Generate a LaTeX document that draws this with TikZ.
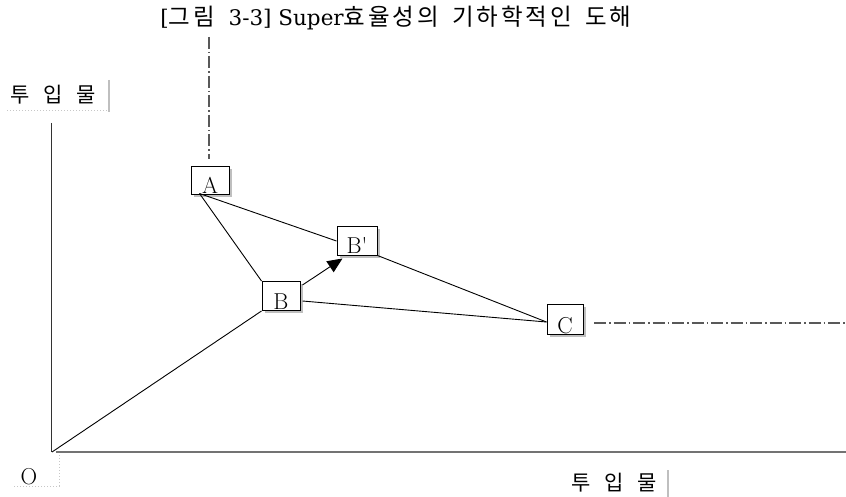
\documentclass[tikz,border=0pt]{standalone}
\usepackage{fontspec}
\newfontfamily\kr{Noto Sans CJK KR}
\newfontfamily\krw[LetterSpace=12]{Noto Sans CJK KR}
\newfontfamily\ser{DejaVu Serif}
\newcommand\krt[1]{{\krw\fontsize{23.5}{23.5}\selectfont #1}}
\usetikzlibrary{arrows.meta,shadows,calc}
\begin{document}
\begin{tikzpicture}[x=1pt,y=-1pt,
  box/.style={draw, line width=1pt, fill=white, minimum width=38pt, minimum height=28pt,
    inner sep=0pt, text height=26pt, text depth=0pt, font=\fontsize{23}{23}\selectfont,
    drop shadow={shadow xshift=2.5pt, shadow yshift=-2.5pt, fill=black!25, opacity=1}},
  ln/.style={line width=0.9pt},
  dashdot/.style={line width=1.1pt, black!65, dash pattern=on 12pt off 3pt on 1.5pt off 3pt},
  kor/.style={font=\kr\fontsize{21}{21}\selectfont, inner sep=0pt},
  dotgray/.style={black!22, line width=1pt, dotted},
  bar/.style={black!25, line width=1.6pt},
]
\useasboundingbox (0,0) rectangle (846,497);
% title
\node[inner sep=0pt, font=\ser\fontsize{21.5}{21.5}\selectfont] (title) at (396,18)
  {[\krt{그림}\ \ 3-3] Super\krt{효율성의}\ \ \krt{기하학적인}\ \ \krt{도해}};
% axes
\coordinate (O) at (52,452);
\coordinate (ytop) at (51.5,123);
\coordinate (xend) at (846,452);
\coordinate (xstart) at (56,452);
\draw[black!80, line width=1.2pt] (ytop) -- (51.5,452);
\draw[black!55, line width=1.5pt] (xstart) -- (xend);
% boxes
\node[box, minimum width=38pt, minimum height=28pt] (A) at (210,181) {A};
\node[box, minimum width=40pt, minimum height=28pt] (Bp) at (357,241) {B\textquotesingle};
\node[box, minimum width=38pt, minimum height=29pt, text height=27pt] (B) at (281,296) {B};
\node[box, minimum width=36pt, minimum height=30pt, text height=28pt] (C) at (565,319) {C};
% helper coordinates
\coordinate (a1) at ($(A.south west)+(9,-2)$);
\coordinate (c1) at ($(C.west)+(0,3)$);
\coordinate (b1) at ($(B.east)+(2,5)$);
\coordinate (dtop) at (209,37);
\coordinate (hd1) at (594,323);
\coordinate (hd2) at (846,323);
% dash-dot guides
\draw[dashdot] (dtop) -- (209,159);
\draw[dashdot] (hd1) -- (hd2);
% connectors
\draw[ln] (a1) -- (Bp.west);
\draw[ln] (a1) -- (B.north west);
\draw[ln] (Bp.south east) -- (c1);
\draw[ln] (b1) -- (c1);
\draw[ln] (O) -- (B.south west);
\draw[ln, -{Triangle[length=15pt,width=13pt]}] ($(B.north east)+(2,4)$) -- ($(Bp.south west)+(6,3)$);
% axis labels
\node[kor] (ylab) at (53,95) {투\hspace{14pt}입\hspace{14pt}물};
\draw[bar] (109,80) -- (109,112);
\draw[dotgray] (7,111) -- (109,111);
\node[inner sep=0pt, font=\fontsize{23}{23}\selectfont] (olab) at (29,477) {O};
\draw[dotgray] (59,455) -- (59,486) -- (13,486);
\node[kor] (xlab) at (614,483) {투\hspace{14pt}입\hspace{14pt}물};
\draw[bar] (668,470) -- (668,497);
\end{tikzpicture}
\end{document}
